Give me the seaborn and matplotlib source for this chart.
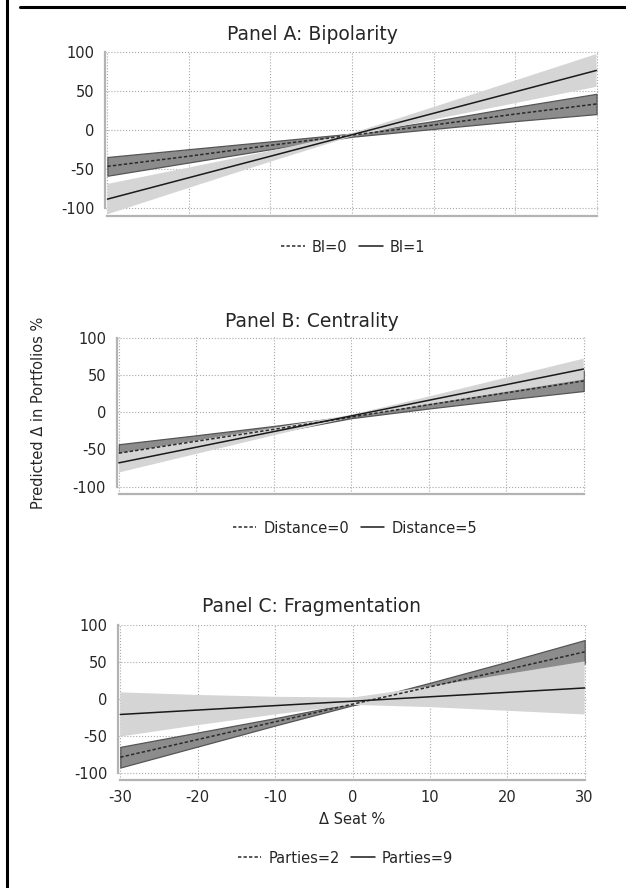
import pandas as pd
import seaborn as sns
import matplotlib.pyplot as plt
from matplotlib.lines import Line2D

seat = [-30, -20, -10, 0, 10, 20, 30]

# Panel A: Bipolarity
a_bi0 = [-47, -34, -20, -7, 6, 20, 33]
a_bi0_lo = [-59, -42, -25, -9, 1, 11, 20]
a_bi0_hi = [-35, -25, -15, -5, 11, 29, 46]
a_bi1 = [-89, -61.5, -34, -6.5, 21, 48.5, 76]
a_bi1_lo = [-108.5, -74.5, -41, -8.5, 13, 34, 55]
a_bi1_hi = [-69.5, -48.5, -27, -4.5, 29, 63, 97]

# Panel B: Centrality
b_d0 = [-55, -39, -23, -6.5, 10, 26, 42]
b_d0_lo = [-67, -47, -27.5, -8, 5, 17, 28.5]
b_d0_hi = [-43, -31, -18.5, -5, 15, 35, 55.5]
b_d5 = [-68, -47, -26, -5, 16, 37, 58]
b_d5_lo = [-81, -56, -31, -6.5, 11, 27.5, 44]
b_d5_hi = [-55, -38, -21, -3.5, 21, 46.5, 72]

# Panel C: Fragmentation
c_p2 = [-79, -55, -31, -7, 16.5, 40, 64]
c_p2_lo = [-93, -64.5, -36, -8.5, 11, 29.5, 48]
c_p2_hi = [-65, -45.5, -26, -5.5, 22, 50.5, 80]
c_p9 = [-21, -15, -9, -3, 3, 9, 15]
c_p9_lo = [-51, -35.5, -21, -8, -11, -16, -21]
c_p9_hi = [9, 5.5, 3, 2, 17, 34, 51]

titles = ["Panel A: Bipolarity", "Panel B: Centrality", "Panel C: Fragmentation"]
legend_labels = [["BI=0", "BI=1"], ["Distance=0", "Distance=5"], ["Parties=2", "Parties=9"]]

sns.set_style("white")
plt.rcParams["font.family"] = ["DejaVu Sans"]
plt.rcParams["axes.unicode_minus"] = False

W, H = 626, 888
TXT = "#262626"
SPINE = "#b3b3b3"
DOT = (0, (2.2, 1.4))

fig = plt.figure(figsize=(W / 100, H / 100), dpi=100)


def px_axes(l, t, r, b):
    return fig.add_axes([l / W, 1 - b / H, (r - l) / W, (b - t) / H])


def panel(ax, dot, dot_lo, dot_hi, sol, sol_lo, sol_hi, show_x):
    ax.fill_between(seat, dot_lo, dot_hi, facecolor="#8c8c8c", edgecolor="#555555", lw=0.9, zorder=2)
    ax.fill_between(seat, sol_lo, sol_hi, facecolor="#d5d5d5", edgecolor="none", zorder=3)
    sns.lineplot(x=seat, y=dot, ax=ax, color="#2a2a2a", lw=1.1, linestyle=DOT, zorder=4)
    sns.lineplot(x=seat, y=sol, ax=ax, color="#1a1a1a", lw=1.1, zorder=5)
    ax.set_xlim(-30.3, 30.3)
    ax.set_ylim(-110.5, 101)
    ax.set_xticks(range(-30, 31, 10))
    ax.set_yticks(range(-100, 101, 50))
    ax.grid(True, ls=":", color="#a8a8a8", lw=0.8)
    ax.set_axisbelow(True)
    for s in ["top", "right"]:
        ax.spines[s].set_visible(False)
    for s in ["left", "bottom"]:
        ax.spines[s].set_color(SPINE)
        ax.spines[s].set_linewidth(1.6)
    ax.spines["left"].set_bounds(-100, 100)
    ax.spines["bottom"].set_bounds(-30, 30)
    ax.tick_params(axis="y", length=6, width=1, color=SPINE, pad=1.5, labelsize=10.5, labelcolor=TXT)
    ax.tick_params(axis="x", length=3.5, width=1, color=SPINE, pad=3.5, labelsize=10.5,
                   labelcolor=TXT, labelbottom=show_x)
    ax.set_xlabel("")
    ax.set_ylabel("")


axA = px_axes(105, 50.9, 599, 215.9)
panel(axA, a_bi0, a_bi0_lo, a_bi0_hi, a_bi1, a_bi1_lo, a_bi1_hi, False)
axB = px_axes(116.5, 337, 586, 494.5)
panel(axB, b_d0, b_d0_lo, b_d0_hi, b_d5, b_d5_lo, b_d5_hi, False)
axC = px_axes(118, 624.6, 587, 780.4)
panel(axC, c_p2, c_p2_lo, c_p2_hi, c_p9, c_p9_lo, c_p9_hi, True)

for title, ty in zip(titles, [34, 321, 607]):
    fig.text(312 / W, 1 - ty / H, title, ha="center", va="center", fontsize=13.5, color=TXT)

for labs, (cx, cy) in zip(legend_labels, [(353.5, 247), (355, 528), (345.5, 858)]):
    handles = [Line2D([], [], color="#2a2a2a", lw=1.1, linestyle=DOT),
               Line2D([], [], color="#1a1a1a", lw=1.1)]
    fig.legend(handles, labs, loc="center", bbox_to_anchor=(cx / W, 1 - cy / H), ncol=2,
               frameon=False, fontsize=10.5, labelcolor=TXT, handlelength=1.6,
               handletextpad=0.5, columnspacing=0.8, borderpad=0, borderaxespad=0)

fig.text(39 / W, 1 - 413 / H, "Predicted Δ in Portfolios %", rotation=90, ha="center",
         va="center", fontsize=10.5, color=TXT)
fig.text(352 / W, 1 - 819 / H, "Δ Seat %", ha="center", va="center", fontsize=10.5, color=TXT)

# frame fragments at the top and left edges
fig.add_artist(Line2D([7 / W, 7 / W], [0, 1], color="black", lw=2.2, transform=fig.transFigure))
fig.add_artist(Line2D([20 / W, 1], [1 - 7 / H, 1 - 7 / H], color="black", lw=2.2,
                      transform=fig.transFigure))

fig.savefig("out.png", dpi=100)
